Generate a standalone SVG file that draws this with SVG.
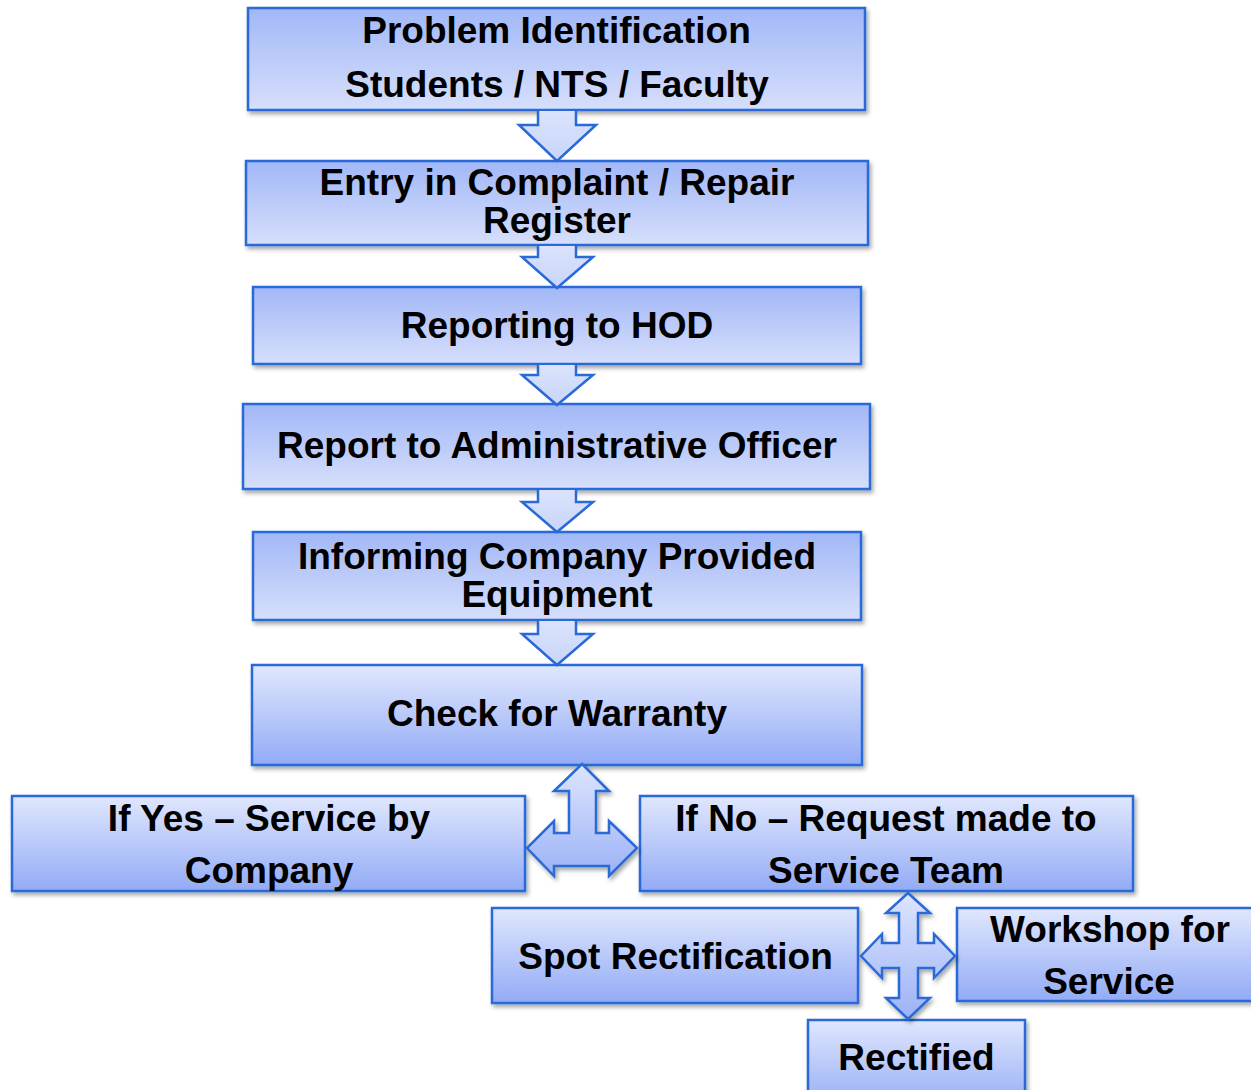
<svg xmlns="http://www.w3.org/2000/svg" width="1251" height="1090" viewBox="0 0 1251 1090">
<style>
.box{stroke:#2a6ad8;stroke-width:2.5;filter:url(#sh)}
.up{fill:url(#gUp)}
.dn{fill:url(#gDn)}
.t{font-family:"Liberation Sans",Arial,sans-serif;font-weight:bold;font-size:37px;fill:#000;text-anchor:middle}
.arr{stroke:#2a6ad8;stroke-width:2.5;stroke-linejoin:miter;fill:url(#gArr)}
.arr2{stroke:#2a6ad8;stroke-width:2.5;stroke-linejoin:miter;fill:url(#gArr2);filter:url(#sh)}
</style>
<defs>
<linearGradient id="gUp" x1="0" y1="0" x2="0" y2="1">
<stop offset="0" stop-color="#a2b7f7"/><stop offset="1" stop-color="#d6dffb"/>
</linearGradient>
<linearGradient id="gDn" x1="0" y1="0" x2="0" y2="1">
<stop offset="0" stop-color="#e0e7fd"/><stop offset="1" stop-color="#93abf6"/>
</linearGradient>
<linearGradient id="gArr" x1="0" y1="0" x2="0" y2="1">
<stop offset="0" stop-color="#dbe3fc"/><stop offset="1" stop-color="#c8d5fa"/>
</linearGradient>
<linearGradient id="gArr2" x1="0" y1="0" x2="0" y2="1">
<stop offset="0" stop-color="#dde5fd"/><stop offset="1" stop-color="#9cb2f6"/>
</linearGradient>
<filter id="sh" x="-10%" y="-10%" width="120%" height="130%">
<feDropShadow dx="2" dy="3" stdDeviation="2" flood-color="#000" flood-opacity="0.35"/>
</filter>
</defs>
<g id="n1"><rect class="box up" x="248" y="8" width="617" height="102"/><text class="t" x="556.5" y="43">Problem Identification</text><text class="t" x="557" y="97">Students / NTS / Faculty</text></g>
<g id="n2"><rect class="box up" x="246" y="161" width="622" height="84"/><text class="t" x="557" y="195">Entry in Complaint / Repair</text><text class="t" x="557" y="233">Register</text></g>
<g id="n3"><rect class="box up" x="253" y="287" width="608" height="77"/><text class="t" x="557" y="338">Reporting to HOD</text></g>
<g id="n4"><rect class="box up" x="243" y="404" width="627" height="85"/><text class="t" x="557" y="458">Report to Administrative Officer</text></g>
<g id="n5"><rect class="box up" x="253" y="532" width="608" height="88"/><text class="t" x="557" y="569">Informing Company Provided</text><text class="t" x="557" y="607">Equipment</text></g>
<g id="n6"><rect class="box dn" x="252" y="665" width="610" height="100"/><text class="t" x="557" y="726">Check for Warranty</text></g>
<g id="n7"><rect class="box dn" x="12" y="796" width="513" height="95"/><text class="t" x="269" y="831">If Yes – Service by</text><text class="t" x="269" y="883">Company</text></g>
<g id="n8"><rect class="box dn" x="640" y="796" width="493" height="95"/><text class="t" x="886" y="831">If No – Request made to</text><text class="t" x="886" y="883">Service Team</text></g>
<g id="n9"><rect class="box dn" x="492" y="908" width="366" height="95"/><text class="t" x="675.5" y="969">Spot Rectification</text></g>
<g id="n10"><rect class="box dn" x="957" y="908" width="310" height="93"/><text class="t" x="1110" y="942">Workshop for</text><text class="t" x="1109" y="994">Service</text></g>
<g id="n11"><rect class="box dn" x="808" y="1020" width="217" height="90"/><text class="t" x="916.5" y="1070">Rectified</text></g>
<g id="connectors">
<path class="arr" d="M538,111 L538,125 L519,125 L557,161 L596,125 L576,125 L576,111"/>
<path class="arr" d="M538,246 L538,257 L522,257 L557,288 L593,257 L576,257 L576,246"/>
<path class="arr" d="M538,365 L538,375 L522,375 L557,405 L593,375 L576,375 L576,365"/>
<path class="arr" d="M538,490 L538,502 L522,502 L557,532 L593,502 L576,502 L576,490"/>
<path class="arr" d="M538,621 L538,634 L522,634 L557,665 L593,634 L576,634 L576,621"/>
<path class="arr2" d="M582,764 L609,791 L596,791 L596,833 L609,833 L609,821 L637,848 L609,876 L609,866 L554,866 L554,876 L527,848 L554,821 L554,833 L569,833 L569,791 L554,791 Z"/>
<path class="arr2" d="M908,893 L930,913 L918,913 L918,943 L934,943 L934,934 L955,956 L934,978 L934,968 L918,968 L918,998 L930,998 L908,1019 L886,998 L899,998 L899,968 L882,968 L882,978 L861,956 L882,934 L882,943 L899,943 L899,913 L886,913 Z"/>
</g>
</svg>
